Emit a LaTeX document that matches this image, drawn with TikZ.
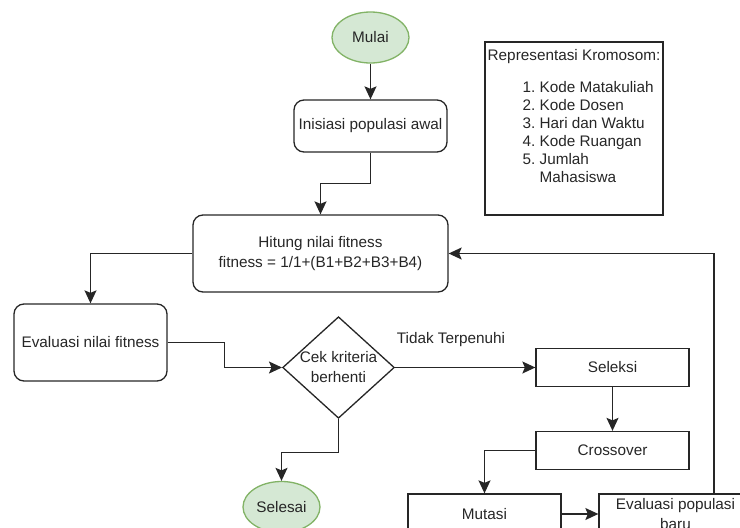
\documentclass[tikz,border=0pt]{standalone}
\usepackage{fontspec}
\setmainfont{Liberation Sans}
\usetikzlibrary{arrows.meta,shapes.geometric,positioning}
\definecolor{termfill}{HTML}{D5E8D4}
\definecolor{termline}{HTML}{82B366}

\begin{document}
\begin{tikzpicture}
[x=1pt,y=-1pt,-{Stealth[length=13pt,width=12pt,inset=2.5pt]},line width=1.3pt,color=black!85,
every node/.style={font=\fontsize{15.3}{20}\selectfont,inner sep=0pt},
terminal/.style={ellipse,draw=termline,fill=termfill,minimum width=77pt,minimum height=51pt},
process/.style={rectangle,rounded corners=10pt,draw,minimum width=153pt},
plain/.style={rectangle,draw,minimum width=153pt,minimum height=38pt},
decision/.style={diamond,draw,aspect=1.1,align=center}]
\useasboundingbox (0,0) rectangle (740,528);
\clip (0,0) rectangle (740,528);

\node[terminal] (mulai) at (370.5,37.5) {Mulai};
\node[process,minimum height=52pt] (inisiasi) at (370.5,126) {Inisiasi populasi awal};
\node[process,minimum width=255pt,minimum height=77pt,align=center] (hitung) at (320.5,253.5)
  {Hitung nilai fitness\\fitness = 1/1+(B1+B2+B3+B4)};
\node[process,minimum height=77pt] (evalfit) at (90.5,342.5) {Evaluasi nilai fitness};
\node[decision] (cek) at (338.5,367.5) {Cek kriteria\\berhenti};
\node[terminal] (selesai) at (281.5,507) {Selesai};
\node[plain] (seleksi) at (612.5,367.5) {Seleksi};
\node[plain] (crossover) at (612.5,450.5) {Crossover};
\node[plain,minimum height=40pt] (mutasi) at (484.5,514) {Mutasi};
\node[plain,minimum height=40pt,align=center] (evalbaru) at (675.5,514) {Evaluasi populasi\\baru};
\node (tidak) at (451,340) {Tidak Terpenuhi};

\node[draw,minimum width=178pt,minimum height=173pt] (kromosom) at (574,128.5) {};
\node (judul) at (574,57) {Representasi Kromosom:};
\node[anchor=west] (daftar) at (522,134) {\renewcommand{\arraystretch}{0.9}%
  \begin{tabular}{@{}r@{\ }l@{}}
  1.&Kode Matakuliah\\
  2.&Kode Dosen\\
  3.&Hari dan Waktu\\
  4.&Kode Ruangan\\
  5.&Jumlah\\
    &Mahasiswa
  \end{tabular}};

\path (mulai) edge (inisiasi);
\path (cek) edge (seleksi);
\path (seleksi) edge (crossover);
\path (mutasi) edge (evalbaru);
\draw (inisiasi.south) -- ++(0,31) -| (hitung.north);
\draw (hitung.west) -| (evalfit.north);
\draw (evalfit.east) -- ++(57,0) |- (cek.west);
\draw (cek.south) -- ++(0,33.5) -| (selesai.north);
\draw (crossover.west) -| (mutasi.north);
\draw ([xshift=38.5pt]evalbaru.north) |- (hitung.east);
\end{tikzpicture}
\end{document}
